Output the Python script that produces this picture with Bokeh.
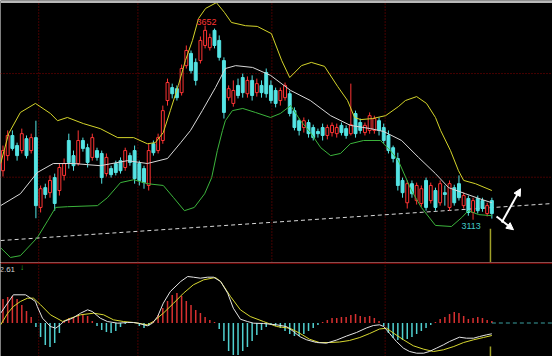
from bokeh.plotting import figure
from bokeh.layouts import column
from bokeh.models import Range1d, Span, BoxAnnotation, Arrow, NormalHead, Label
from bokeh.embed import file_html
from bokeh.resources import INLINE
from bokeh.core.properties import value

# ---------------- data ----------------
opens = [3249, 3291, 3347, 3319, 3305, 3338, 3305, 3341, 3147, 3202,
         3188, 3230, 3194, 3236, 3333, 3291, 3269, 3333, 3313, 3286,
         3305, 3297, 3241, 3255, 3269, 3277, 3258, 3291, 3305, 3269,
         3255, 3208, 3324, 3305, 3333, 3444, 3480, 3477, 3466, 3541,
         3575, 3550, 3555, 3597, 3591, 3639, 3611, 3555, 3452, 3436,
         3486, 3508, 3463, 3500, 3466, 3486, 3522, 3486, 3472, 3444,
         3452, 3463, 3416, 3388, 3369, 3383, 3369, 3358, 3369, 3347,
         3355, 3352, 3375, 3366, 3352, 3408, 3383, 3355, 3361, 3361,
         3388, 3369, 3347, 3313, 3283, 3222, 3160, 3213, 3166, 3158,
         3222, 3166, 3194, 3160, 3188, 3147, 3202, 3213, 3152, 3172,
         3133, 3172, 3166, 3130, 3166]
highs = [3319, 3361, 3361, 3327, 3366, 3347, 3352, 3388, 3208, 3213,
         3236, 3241, 3269, 3283, 3352, 3305, 3361, 3341, 3324, 3352,
         3313, 3305, 3297, 3263, 3277, 3286, 3313, 3299, 3319, 3277,
         3263, 3324, 3333, 3352, 3430, 3505, 3491, 3486, 3544, 3597,
         3583, 3561, 3622, 3652, 3630, 3644, 3625, 3564, 3486, 3500,
         3505, 3519, 3511, 3514, 3505, 3500, 3533, 3500, 3480, 3480,
         3494, 3472, 3425, 3394, 3397, 3391, 3377, 3366, 3380, 3377,
         3383, 3380, 3383, 3375, 3491, 3416, 3394, 3383, 3411, 3402,
         3397, 3380, 3361, 3319, 3299, 3230, 3222, 3222, 3216, 3208,
         3230, 3216, 3202, 3222, 3208, 3222, 3210, 3236, 3188, 3180,
         3174, 3180, 3174, 3160, 3174]
lows = [3233, 3277, 3305, 3277, 3297, 3283, 3297, 3117, 3133, 3172,
        3174, 3138, 3180, 3222, 3255, 3249, 3263, 3302, 3258, 3277,
        3277, 3213, 3233, 3230, 3236, 3241, 3249, 3263, 3213, 3208,
        3199, 3194, 3291, 3297, 3324, 3430, 3450, 3444, 3458, 3533,
        3519, 3486, 3547, 3589, 3583, 3589, 3555, 3394, 3444, 3427,
        3450, 3452, 3452, 3444, 3455, 3452, 3452, 3436, 3425, 3430,
        3444, 3400, 3361, 3347, 3355, 3341, 3333, 3341, 3333, 3336,
        3344, 3341, 3347, 3338, 3347, 3341, 3352, 3347, 3352, 3352,
        3347, 3324, 3297, 3272, 3194, 3174, 3144, 3174, 3155, 3149,
        3138, 3158, 3138, 3152, 3152, 3138, 3152, 3166, 3144, 3124,
        3113, 3130, 3135, 3122, 3116]
closes = [3305, 3347, 3311, 3291, 3352, 3291, 3341, 3152, 3199, 3183,
          3222, 3158, 3258, 3269, 3272, 3263, 3333, 3311, 3272, 3341,
          3286, 3230, 3286, 3238, 3244, 3249, 3305, 3272, 3227, 3222,
          3216, 3305, 3299, 3341, 3416, 3494, 3463, 3452, 3533, 3583,
          3527, 3500, 3611, 3639, 3619, 3597, 3564, 3411, 3477, 3472,
          3458, 3466, 3500, 3458, 3491, 3466, 3463, 3444, 3436, 3472,
          3486, 3408, 3369, 3361, 3388, 3352, 3341, 3352, 3347, 3369,
          3375, 3369, 3355, 3347, 3377, 3352, 3361, 3375, 3402, 3394,
          3361, 3333, 3305, 3283, 3208, 3188, 3213, 3185, 3208, 3199,
          3147, 3208, 3147, 3213, 3183, 3213, 3160, 3174, 3180, 3133,
          3166, 3138, 3144, 3152, 3130]

# Bollinger bands (candle index, price)
boll_up_x = [-0.5, 1.2, 3.7, 6.9, 10.1, 11.6, 13.7, 17.1, 20.7, 24.4, 27.8, 30.7, 32.4,
             34.1, 35.6, 37.3, 38.8, 40.3, 41.6, 43.1, 45.4, 47.1, 48.6, 51.6, 54.1,
             57.1, 59.3, 61.0, 63.5, 65.6, 68.4, 71.2, 73.3, 74.8, 76.1, 78.6, 81.4,
             84.1, 85.6, 88.0, 90.1, 92.0, 93.1, 95.2, 96.9, 98.0, 100.5, 104]
boll_up_y = [3269, 3352, 3411, 3436, 3408, 3388, 3397, 3380, 3366, 3341, 3341, 3324, 3327,
             3355, 3416, 3486, 3555, 3611, 3672, 3700, 3716, 3689, 3661, 3652, 3650,
             3630, 3555, 3508, 3541, 3550, 3539, 3483, 3444, 3397, 3391, 3394, 3402,
             3427, 3444, 3455, 3436, 3397, 3361, 3305, 3249, 3222, 3213, 3194]
boll_mid_x = [-0.5, 3.7, 7.3, 10.7, 15.0, 20.7, 26.5, 30.7, 35.0, 37.8, 39.9, 42.4, 45.2,
              47.3, 49.5, 53.1, 56.9, 61.2, 65.4, 69.7, 73.9, 78.2, 81.0, 84.8, 88.4,
              92.0, 94.8, 98.4, 101.2, 104]
boll_mid_y = [3152, 3185, 3244, 3269, 3269, 3263, 3277, 3269, 3283, 3327, 3361, 3416, 3480,
              3533, 3541, 3536, 3514, 3472, 3444, 3402, 3375, 3366, 3358, 3333, 3286,
              3241, 3202, 3185, 3172, 3160]
boll_low_x = [-0.5, 1.6, 3.7, 7.3, 9.5, 11.2, 13.7, 20.1, 22.2, 25.0, 27.8, 30.7, 34.1,
              36.3, 38.6, 40.7, 42.9, 44.4, 45.6, 46.7, 47.3, 48.8, 51.0, 53.7, 56.9,
              59.0, 61.2, 63.3, 65.4, 67.6, 69.7, 71.8, 73.9, 76.7, 80.3, 82.4, 84.1,
              86.9, 89.0, 92.0, 95.4, 97.6, 99.0, 101.2, 104]
boll_low_y = [3035, 3008, 3013, 3063, 3110, 3147, 3149, 3152, 3174, 3216, 3224, 3213, 3208,
              3174, 3138, 3147, 3185, 3230, 3305, 3361, 3388, 3416, 3422, 3411, 3397,
              3408, 3430, 3388, 3355, 3313, 3291, 3297, 3324, 3333, 3333, 3305, 3277,
              3194, 3147, 3097, 3094, 3119, 3138, 3127, 3124]

# MACD
macd_hist = [24, 26, 27, 24, 18, 12, 6, -4, -14, -22,
             -24, -20, -10, 2, 5, 6, 7, 8, 7, 2,
             -3, -7, -9, -10, -8, -4, -1, 1, 1, -3,
             -5, -3, 2, 8, 15, 22, 28, 30, 27, 22,
             18, 13, 10, 6, 3, 1, -6, -18, -28, -32,
             -32, -28, -24, -18, -12, -7, -4, -2, -3, -5,
             -8, -11, -13, -13, -11, -8, -5, -2, 1, 3,
             5, 5, 6, 6, 8, 9, 7, 6, 7, 5,
             2, -3, -10, -15, -17, -17, -16, -14, -11, -8,
             -5, -2, 1, 4, 6, 9, 11, 10, 7, 4,
             5, 6, 5, 3, 2]
dif_x = [-0.5, 2.2, 4.8, 5.9, 6.9, 7.3, 8.4, 10.1, 11.2, 12.2, 12.9, 14.8, 16.5, 18.0,
         19.0, 20.7, 22.2, 24.4, 26.5, 27.8, 28.8, 30.7, 31.8, 32.9, 34.1, 35.6, 37.8,
         39.3, 40.5, 42.0, 43.5, 44.8, 46.3, 47.8, 49.0, 50.5, 52.0, 53.3, 55.4, 58.2,
         60.3, 61.8, 63.1, 64.6, 66.7, 68.8, 71.0, 73.1, 75.2, 77.3, 78.8, 80.1, 81.0,
         82.2, 83.7, 85.2, 86.5, 88.0, 89.5, 90.7, 92.2, 93.7, 95.0, 97.1, 98.6, 100.1,
         101.4, 102.9, 104]
dif_y = [9.8, 28.2, 28.2, 24.8, 21.5, 16.5, 4.8, -3.5, -5.2, -1.8, 1.5, 4.8, 9.8, 13.2,
         11.5, 4.8, 1.5, -0.2, 0.5, 0.5, -0.2, -2.8, -0.2, 6.5, 19.8, 31.5, 41.5,
         46.5, 45.8, 44.8, 45.8, 45.8, 41.5, 29.8, 14.8, 3.8, 1.5, -0.2, -0.5, -1.8,
         -3.5, -8.5, -13.5, -16.8, -19.5, -20.2, -17.0, -13.0, -9.5, -5.0, -2.5, -1.8, -3.5,
         -10.2, -18.5, -25.2, -28.5, -30.2, -30.2, -28.5, -25.2, -21.8, -18.5, -14.2, -15.2, -15.2,
         -13.5, -11.8, -10.8]
dea_x = [-0.5, 1.0, 2.2, 3.7, 5.2, 6.5, 8.0, 10.1, 12.7, 14.4, 16.5, 19.3, 21.4, 23.5,
         25.6, 27.8, 30.7, 32.0, 34.1, 36.3, 38.4, 40.5, 42.7, 45.2, 46.3, 48.4, 50.5,
         52.6, 55.4, 58.2, 61.0, 63.1, 65.2, 67.3, 69.5, 71.6, 73.7, 75.9, 78.0, 80.1,
         81.6, 83.1, 85.2, 87.3, 89.5, 91.6, 93.7, 95.9, 98.0, 100.1, 102.2, 104]
dea_y = [-1.8, 9.8, 16.5, 21.5, 24.8, 24.8, 18.2, 8.2, 1.5, 4.8, 8.2, 9.8, 8.2, 3.2,
         1.5, 0.5, -1.8, 1.5, 9.8, 19.8, 29.8, 38.2, 43.2, 45.5, 41.5, 26.5, 13.2,
         6.5, 1.5, -3.5, -5.2, -10.2, -16.2, -19.5, -19.5, -19.0, -17.5, -14.5, -10.5, -6.0,
         -5.2, -10.2, -16.8, -22.8, -26.2, -28.5, -26.8, -23.5, -19.5, -16.8, -14.5, -12.5]

# annotations drawn on the chart
trend_x = [-0.5, 117.0]
trend_y = [3055, 3158]
arrow_up = (106.1, 3105, 110.1, 3199)
arrow_dn = (105.0, 3122, 108.6, 3085)
month_lines = [7.6, 28.7, 57.2, 81.3]
macd_month_lines = [7.6, 28.7, 81.3]
price_grid = [3519, 3231]
cursor_idx = 103.7
macd_text = "2.61"

# ---------------- styling ----------------
RED = "#ff3434"
CYAN = "#54e4e4"
GRID = "#8c0000"
BG = "black"

N = len(closes)
idx = list(range(N))
is_up = [c > o for o, c in zip(opens, closes)]
ccol = [RED if u else CYAN for u in is_up]
cfill = ["black" if u else CYAN for u in is_up]
btop = [max(o, c) for o, c in zip(opens, closes)]
bbot = [min(o, c) for o, c in zip(opens, closes)]

X_RANGE = Range1d(-0.53, 116.9)


def base(h, yr):
    f = figure(width=552, height=h, x_range=X_RANGE, y_range=yr,
               output_backend="svg", toolbar_location=None,
               x_axis_location=None, y_axis_location=None,
               min_border=0, min_border_left=0, min_border_right=0,
               min_border_top=0, min_border_bottom=0,
               background_fill_color=BG, border_fill_color=BG,
               outline_line_color=None)
    f.grid.visible = False
    return f


p = base(262, Range1d(2994, 3722))

for xv in month_lines:
    p.add_layout(Span(location=xv, dimension="height", line_color=GRID,
                      line_dash="1 2", line_width=1, level="underlay"))
for yv in price_grid:
    p.add_layout(Span(location=yv, dimension="width", line_color=GRID,
                      line_dash="1 2", line_width=1, level="underlay"))

p.add_layout(BoxAnnotation(bottom=3715, fill_color="#b8b8b8", fill_alpha=1,
                           line_color=None))

p.line(trend_x, trend_y, line_color="#d8d8d8", line_dash="4 3", line_width=1)

p.segment(x0=[cursor_idx], y0=[3088], x1=[cursor_idx], y1=[2994],
          line_color="#a0a028", line_width=1.5)

p.segment(x0=idx, y0=lows, x1=idx, y1=highs, line_color=ccol, line_width=1)
p.vbar(x=idx, width=0.62, top=btop, bottom=bbot, fill_color=cfill,
       line_color=ccol, line_width=1)

p.line(boll_up_x, boll_up_y, line_color="#d4d42a", line_width=1)
p.line(boll_mid_x, boll_mid_y, line_color="#d8d8d8", line_width=1)
p.line(boll_low_x, boll_low_y, line_color="#3cb43c", line_width=1)

hi_i = highs.index(max(highs))
lo_i = lows.index(min(lows))
p.text(x=[hi_i + 0.3], y=[highs[hi_i]], text=[str(max(highs))], text_color=RED,
       text_font_size="9px", text_align="center", text_baseline="bottom",
       y_offset=-1, text_font=value("Liberation Sans"))
p.text(x=[lo_i - 0.4], y=[lows[lo_i]], text=[str(min(lows))], text_color="#40c8c8",
       text_font_size="9px", text_align="center", text_baseline="top",
       y_offset=3, text_font=value("Liberation Sans"))

for (x0, y0, x1, y1) in (arrow_up, arrow_dn):
    p.add_layout(Arrow(end=NormalHead(size=7, fill_color="white", line_color="white"),
                       x_start=x0, y_start=y0, x_end=x1, y_end=y1,
                       line_color="white", line_width=2))

# ---------------- MACD panel ----------------
m = base(94, Range1d(-33.5, 60.5))
for xv in macd_month_lines:
    m.add_layout(Span(location=xv, dimension="height", line_color=GRID,
                      line_dash="1 2", line_width=1, level="underlay"))
m.add_layout(Span(location=60.0, dimension="width", line_color="#8c0000",
                  line_width=1.5))

hcol = ["#d83030" if v > 0 else "#50d0d0" for v in macd_hist]
m.segment(x0=idx, y0=[0] * N, x1=idx, y1=macd_hist, line_color=hcol, line_width=1.5)
m.line([N - 1, 117], [0, 0], line_color="#3aa0a0", line_dash="4 3", line_width=1)
m.segment(x0=[cursor_idx], y0=[-23.5], x1=[cursor_idx], y1=[-33.5],
          line_color="#a0a028", line_width=1.5)

m.line(dea_x, dea_y, line_color="#d8d830", line_width=1)
m.line(dif_x, dif_y, line_color="#e4e4e4", line_width=1)

m.add_layout(Label(x=-0.75, y=51.5, text=macd_text, text_color="#d0d0d0",
                   text_font_size="8px", text_font="Liberation Sans"))
m.add_layout(Label(x=3.6, y=51.5, text="↓", text_color="#30c030",
                   text_font_size="8px", text_font="Liberation Sans"))

layout = column(p, m, spacing=0)
open("out.html", "w").write(file_html(layout, INLINE))
